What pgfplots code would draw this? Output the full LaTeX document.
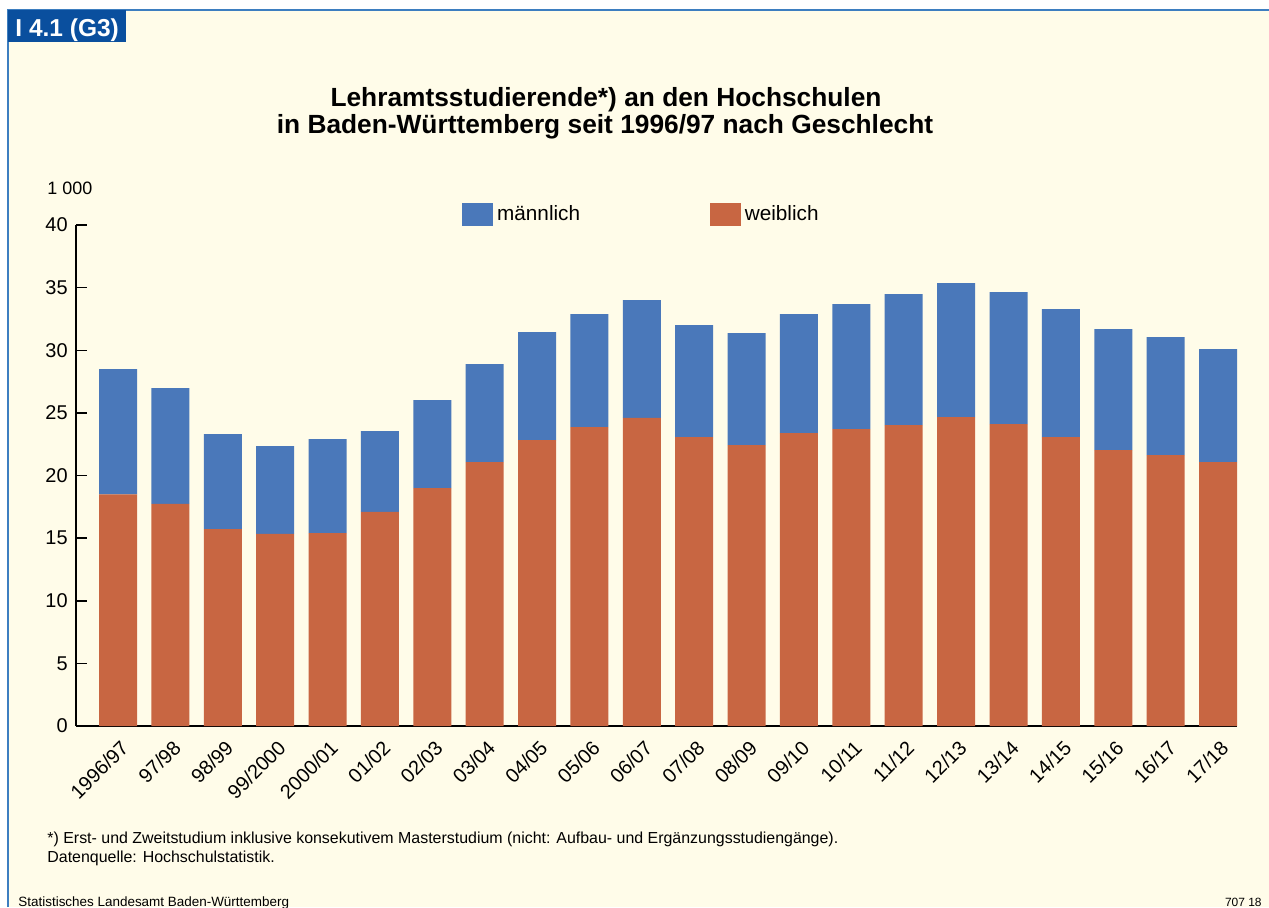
\documentclass[border=0pt]{standalone}
\usepackage{pgfplots}
\pgfplotsset{compat=1.18}
\usepackage{pgfplotstable}
\usepackage{fontspec}
\setmainfont{Liberation Sans}
\definecolor{mblue}{HTML}{4A78BA}
\definecolor{worange}{HTML}{C86642}
\definecolor{bgcream}{HTML}{FFFCE9}
\definecolor{boxblue}{HTML}{0A4F9E}
\definecolor{frameblue}{HTML}{3D7EC0}

\pgfplotstableread{
x label w m
0 1996/97 18.50 10.00
1 97/98 17.74 9.23
2 98/99 15.72 7.58
3 99/2000 15.35 7.00
4 2000/01 15.40 7.50
5 01/02 17.10 6.44
6 02/03 19.00 7.02
7 03/04 21.07 7.83
8 04/05 22.83 8.62
9 05/06 23.86 9.02
10 06/07 24.60 9.40
11 07/08 23.06 8.94
12 08/09 22.43 8.94
13 09/10 23.38 9.50
14 10/11 23.70 9.98
15 11/12 24.02 10.46
16 12/13 24.66 10.70
17 13/14 24.10 10.54
18 14/15 23.06 10.22
19 15/16 22.03 9.65
20 16/17 21.63 9.42
21 17/18 21.07 9.02
}\datatable

\begin{document}
\begin{tikzpicture}
\begin{scope}[x=0.5bp,y=-0.5bp]
\path[use as bounding box] (0,0) rectangle (1269,907);
\fill[white] (0,0) rectangle (1269,907);
\fill[bgcream] (8,10) rectangle (1269,907);
\draw[frameblue, line width=1bp] (8,907) -- (8,10) -- (1269,10);
\fill[boxblue] (8,10) rectangle (126,42);
\node[white, font=\fontsize{12.3}{14}\selectfont\bfseries, anchor=base west, inner sep=0pt] at (15,36.5) {I 4.1 (G3)};
\node[font=\fontsize{13.2}{14}\selectfont\bfseries, anchor=base, inner sep=0pt] at (606,106) {Lehramtsstudierende*) an den Hochschulen};
\node[font=\fontsize{13.2}{14}\selectfont\bfseries, anchor=base, inner sep=0pt] at (605,133) {in Baden-Württemberg seit 1996/97 nach Geschlecht};
\node[font=\fontsize{9}{10}\selectfont, anchor=base west, inner sep=0pt] at (47,194) {1 000};
\node[font=\fontsize{8}{9}\selectfont, anchor=base west, inner sep=0pt] at (47,843) {*) Erst- und Zweitstudium inklusive konsekutivem Masterstudium (nicht: Aufbau- und Ergänzungsstudiengänge).};
\node[font=\fontsize{8}{9}\selectfont, anchor=base west, inner sep=0pt] at (47,862) {Datenquelle: Hochschulstatistik.};
\node[font=\fontsize{6.75}{8}\selectfont, anchor=base west, inner sep=0pt] at (18,906) {Statistisches Landesamt Baden-Württemberg};
\node[font=\fontsize{6}{8}\selectfont, anchor=base east, inner sep=0pt] at (1262,906) {707 18};
\end{scope}
\begin{axis}[
  at={(38bp,-363bp)}, anchor=south west,
  width=580.5bp, height=250.5bp, scale only axis,
  xmin=-0.802, xmax=21.363, ymin=0, ymax=40,
  ybar stacked, bar width=19bp,
  axis x line=bottom, axis y line=left,
  axis line style={-, line width=0.75bp, black},
  x axis line style={-}, y axis line style={-},
  ytick={0,5,...,40},
  tick align=inside,
  major tick length=5.5bp,
  ytick style={black, line width=0.75bp},
  xtick=data,
  xticklabels from table={\datatable}{label},
  xtick style={draw=none},
  /pgf/number format/assume math mode=true,
  ticklabel style={font=\fontsize{10}{12}\selectfont},
  yticklabel style={anchor=east, inner sep=0pt, xshift=-4bp},
  xticklabel style={xshift=3.5bp, yshift=-9bp, rotate=45, anchor=east, inner sep=0pt},
  legend columns=2,
  legend style={at={(0.3273,1.022)}, anchor=west, draw=none, fill=none,
    font=\fontsize{10.4}{12}\selectfont,
    /tikz/every even column/.append style={column sep=63bp}},
]
\addplot[fill=worange, draw=none, forget plot] table[x=x, y=w] {\datatable};
\addplot[fill=mblue, draw=none, forget plot] table[x=x, y=m] {\datatable};
\addlegendimage{legend image code/.code={\fill[mblue] (0bp,-5.5bp) rectangle (15bp,5.5bp);}}
\addlegendentry{männlich}
\addlegendimage{legend image code/.code={\fill[worange] (0bp,-5.5bp) rectangle (15bp,5.5bp);}}
\addlegendentry{weiblich}
\end{axis}
\end{tikzpicture}
\end{document}
